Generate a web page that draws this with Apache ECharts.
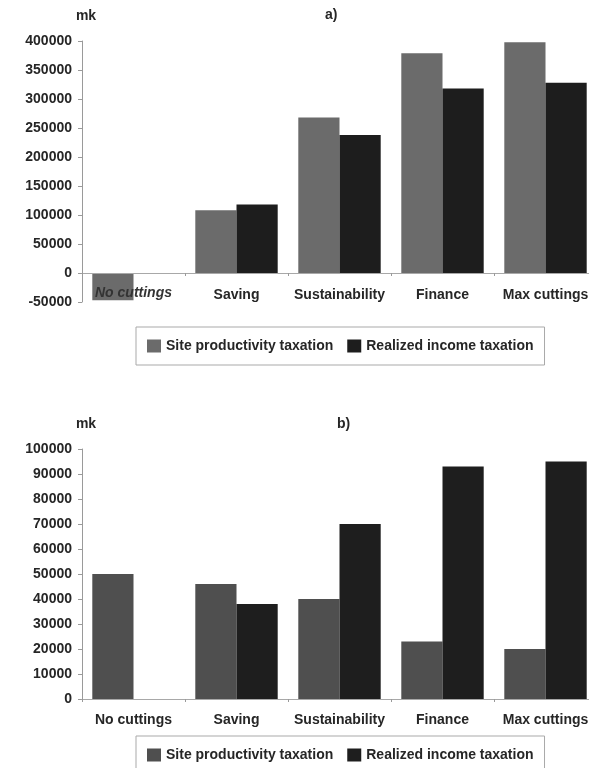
<!DOCTYPE html>
<html>
<head>
<meta charset="utf-8">
<script src="https://cdn.jsdelivr.net/npm/echarts@6/dist/echarts.min.js"></script>
<style>
  html, body { margin: 0; padding: 0; background: #fff; }
  #chart { width: 589px; height: 768px; }
</style>
</head>
<body>
<div id="chart"></div>
<script>
// Forest management strategies compared under two taxation schemes (values in mk)
const categories = ['No cuttings', 'Saving', 'Sustainability', 'Finance', 'Max cuttings'];
const seriesNames = ['Site productivity taxation', 'Realized income taxation'];

// Panel a)
const siteTaxA = [-47000, 108000, 268000, 379000, 398000];
const incomeTaxA = [0, 118000, 238000, 318000, 328000];
const axisA = { min: -50000, max: 400000, interval: 50000 };

// Panel b)
const siteTaxB = [50000, 46000, 40000, 23000, 20000];
const incomeTaxB = [0, 38000, 70000, 93000, 95000];
const axisB = { min: 0, max: 100000, interval: 10000 };

const FONT = '"Liberation Sans", Arial, Helvetica, sans-serif';
const TEXT = '#262626';
const colors = {
  siteA: '#6b6b6b', incomeA: '#1d1d1d',
  siteB: '#4f4f4f', incomeB: '#1e1e1e'
};

const chart = echarts.init(document.getElementById('chart'), null, { renderer: 'canvas' });

function yAxis(gridIndex, range) {
  return {
    type: 'value', gridIndex,
    min: range.min, max: range.max, interval: range.interval,
    name: 'mk', nameLocation: 'end', nameGap: 18,
    nameTextStyle: { fontFamily: FONT, fontSize: 14, fontWeight: 'bold', color: TEXT, align: 'center', padding: [0, 0, 0, 8] },
    splitLine: { show: false },
    axisLine: { show: true, lineStyle: { color: '#9a9a9a', width: 1 } },
    axisTick: { show: true, length: 4, lineStyle: { color: '#9a9a9a' } },
    axisLabel: {
      fontFamily: FONT, fontSize: 14, fontWeight: 'bold', color: TEXT, margin: 10,
      formatter: v => String(v)
    }
  };
}

// Category axis; in panel a) the labels sit just under the zero line and
// the first one is set in italics over its bar.
function xAxis(gridIndex, italicFirst, margin) {
  return {
    type: 'category', gridIndex, data: categories, z: 5,
    axisLine: { show: true, onZero: true, lineStyle: { color: '#a8a8a8', width: 1 } },
    axisTick: { show: true, length: 3, interval: 0, lineStyle: { color: '#9a9a9a' } },
    axisLabel: {
      interval: 0, margin,
      fontFamily: FONT, fontSize: 14, fontWeight: 'bold', color: TEXT,
      formatter: (v, i) => (italicFirst && i === 0) ? '{it|' + v + '}' : v,
      rich: {
        it: { fontFamily: FONT, fontSize: 14, fontWeight: 'bold', fontStyle: 'italic', color: '#333', lineHeight: 10 }
      }
    }
  };
}

function legend(top, siteColor, incomeColor) {
  return {
    left: 136, top,
    orient: 'horizontal',
    backgroundColor: '#fff',
    borderColor: '#a9a9a9', borderWidth: 1, borderRadius: 0,
    padding: [12, 11, 12, 11],
    itemWidth: 14, itemHeight: 13, itemGap: 14,
    icon: 'rect',
    selectedMode: false,
    textStyle: { fontFamily: FONT, fontSize: 14, fontWeight: 'bold', color: TEXT },
    data: [
      { name: seriesNames[0], itemStyle: { color: siteColor } },
      { name: seriesNames[1], itemStyle: { color: incomeColor } }
    ]
  };
}

function bars(name, data, color, idx) {
  return {
    name, type: 'bar', data,
    xAxisIndex: idx, yAxisIndex: idx,
    barGap: '0%', barCategoryGap: '20%',
    itemStyle: { color },
    emphasis: { disabled: true },
    animation: false
  };
}

chart.setOption({
  animation: false,
  backgroundColor: '#fff',
  title: [
    { text: 'a)', left: 320, top: 3, textStyle: { fontFamily: FONT, fontSize: 14, fontWeight: 'bold', color: TEXT } },
    { text: 'b)', left: 332, top: 412, textStyle: { fontFamily: FONT, fontSize: 14, fontWeight: 'bold', color: TEXT } }
  ],
  grid: [
    { left: 82, top: 41, width: 515, height: 261, outerBoundsMode: 'none' },
    { left: 82, top: 449, width: 515, height: 250, outerBoundsMode: 'none' }
  ],
  xAxis: [xAxis(0, true, -14), xAxis(1, false, 14)],
  yAxis: [yAxis(0, axisA), yAxis(1, axisB)],
  legend: [
    legend(327, colors.siteA, colors.incomeA),
    legend(736, colors.siteB, colors.incomeB)
  ],
  series: [
    bars(seriesNames[0], siteTaxA, colors.siteA, 0),
    bars(seriesNames[1], incomeTaxA, colors.incomeA, 0),
    bars(seriesNames[0], siteTaxB, colors.siteB, 1),
    bars(seriesNames[1], incomeTaxB, colors.incomeB, 1)
  ]
});
</script>
</body>
</html>
